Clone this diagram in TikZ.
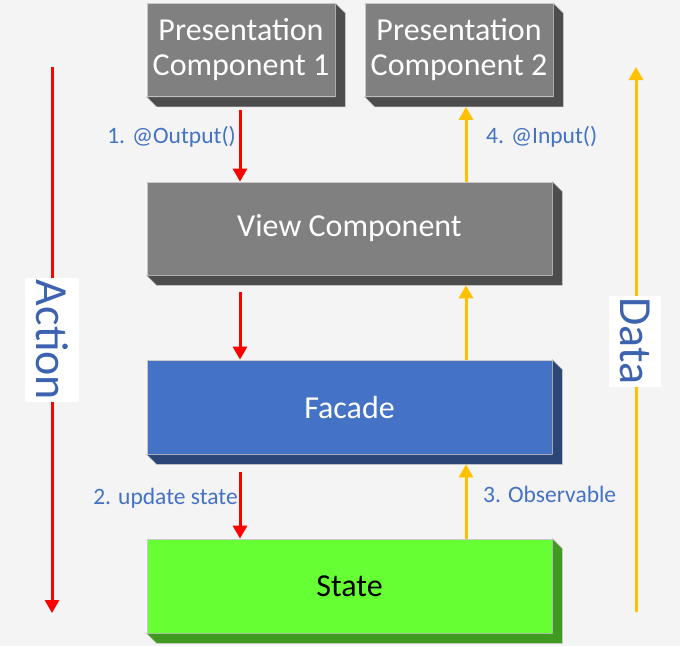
\documentclass[tikz,border=0pt]{standalone}
\usepackage{fontspec}
\setmainfont{Carlito}
\usetikzlibrary{arrows.meta}
\definecolor{bgc}{HTML}{F4F4F4}
\definecolor{edgec}{HTML}{C8C8C8}
\definecolor{grayface}{HTML}{808080}
\definecolor{grayside}{HTML}{4D4D4D}
\definecolor{blueface}{HTML}{4472C4}
\definecolor{blueside}{HTML}{2C4677}
\definecolor{greenface}{HTML}{66FF33}
\definecolor{greenside}{HTML}{3F9A1F}
\definecolor{actred}{HTML}{FF0000}
\definecolor{datyellow}{HTML}{FFC000}
\definecolor{lblblue}{HTML}{4472C4}
\definecolor{bigblue}{HTML}{3C62B0}
% side and bottom faces of a box, plus a point under it
\newcommand{\extrude}[2]{%
  \filldraw[fill=#2, draw=edgec, line width=0.6pt] (#1.north east) -- ++(10,10)
    -- ([shift={(10,10)}]#1.south east) -- ([shift={(10,10)}]#1.south west)
    -- (#1.south west) -- (#1.south east) -- cycle;
  \coordinate (#1-base) at ([shift={(0,10)}]#1.south);}
\begin{document}
\begin{tikzpicture}[x=1pt,y=-1pt,
  box/.style={rectangle, draw=edgec, line width=0.8pt, inner sep=0pt,
    minimum height=93pt, text=white, align=center,
    font=\fontsize{32}{35}\selectfont},
  lbl/.style={text=lblblue, inner sep=0pt, font=\fontsize{23.5}{28}\selectfont},
  big/.style={fill=white, text=bigblue, rotate=-90, inner sep=0pt,
    minimum height=54pt, font=\fontsize{46}{52}\selectfont},
  actarrow/.style={draw=actred, line width=3pt, -{Triangle[width=14pt,length=13pt]}},
  datarrow/.style={draw=datyellow, line width=3pt, -{Triangle[width=14pt,length=13pt]}}]
 \fill[bgc] (0,0) rectangle (680,646);
 % boxes
 \node[box, fill=grayface, minimum width=188pt] (pc1) at (241,50) {Presentation\\Component 1};
 \node[box, fill=grayface, minimum width=188pt] (pc2) at (459,50) {Presentation\\Component 2};
 \node[box, fill=grayface, minimum width=405pt] (view) at (349.5,228.5) {View Component};
 \node[box, fill=blueface, minimum width=405pt, minimum height=94pt] (facade) at (349.5,407) {Facade};
 \node[box, fill=greenface, text=black, minimum width=405pt, minimum height=94pt] (state) at (349.5,586) {State};
 \extrude{pc1}{grayside}
 \extrude{pc2}{grayside}
 \extrude{view}{grayside}
 \extrude{facade}{blueside}
 \extrude{state}{greenside}
 % arrows between boxes
 \coordinate (act) at (240,0);
 \coordinate (dat) at (466,0);
 \draw[actarrow, shorten <=3pt] (act |- pc1-base) -- (act |- view.north);
 \draw[actarrow, shorten <=7pt] (act |- view-base) -- (act |- facade.north);
 \draw[actarrow, shorten <=8pt] (act |- facade-base) -- (act |- state.north);
 \draw[datarrow] (dat |- view.north) -- (dat |- pc2-base);
 \draw[datarrow] (dat |- facade.north) -- (dat |- view-base);
 \draw[datarrow] (dat |- state.north) -- (dat |- facade-base);
 % labels
 \node[lbl, anchor=base east] (output) at (236,143) {1. @Output()};
 \node[lbl, anchor=base west] (input) at (486,143) {4. @Input()};
 \node[lbl, anchor=base east] (update) at (238,504) {2. update state};
 \node[lbl, anchor=base west] (observable) at (483,502) {3. Observable};
 % side arrows
 \coordinate (acttop) at (52,67);
 \coordinate (actbot) at (52,613);
 \coordinate (datbot) at (636,611);
 \coordinate (dattop) at (636,67);
 \draw[actarrow] (acttop) -- (actbot);
 \draw[datarrow, line cap=round] (datbot) -- (dattop);
 \node[big, minimum width=124pt] (action) at (52,340) {Action};
 \node[big, minimum width=91pt, minimum height=52pt] (data) at (635,341) {Data};
\end{tikzpicture}
\end{document}
